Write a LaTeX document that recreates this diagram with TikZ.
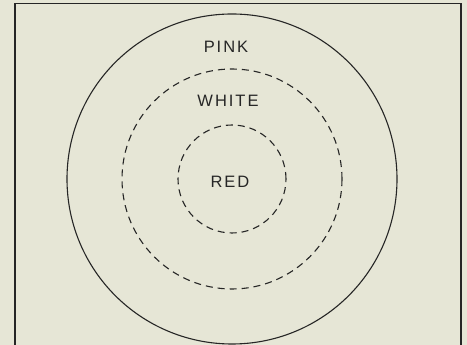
\documentclass[tikz,border=0pt]{standalone}
\usepackage{fontspec}
\setsansfont{Liberation Sans}
\usepackage{xcolor}
\usepackage{tikz}
\definecolor{paper}{HTML}{E6E6D6}
\definecolor{ink}{HTML}{262626}

\begin{document}
\begin{tikzpicture}[x=1pt, y=1pt,
    ring/.style={ink, line width=1.1pt},
    dashring/.style={ink, line width=1.1pt, dash pattern=on 7pt off 5pt},
    zone/.style={text=ink, font=\sffamily\addfontfeature{LetterSpace=12}\fontsize{16.5}{16.5}\selectfont}]
  \fill[paper] (0,0) rectangle (467,345);
  \useasboundingbox (0,0) rectangle (467,345);
  \draw[ink, line width=1.8pt] (15,0) -- (15,341.5) -- (461,341.5) -- (461,0);
  \coordinate (centre) at (232,166);
  \draw[ring] (centre) circle[radius=165];
  \draw[dashring] (centre) circle[radius=110];
  \draw[dashring] (centre) circle[radius=54];
  \node[zone] (pink) at (226,298) {PINK};
  \node[zone] (white) at (228,244) {WHITE};
  \node[zone] (red) at (230,163) {RED};
\end{tikzpicture}
\end{document}
